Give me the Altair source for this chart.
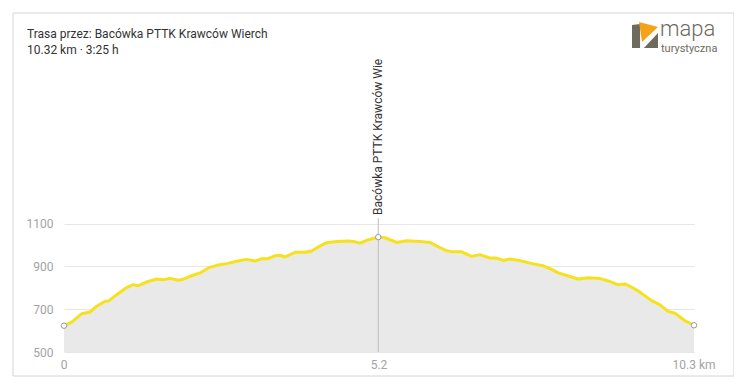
import altair as alt
import pandas as pd

# ---- data ----
km = [0, 0.126, 0.290, 0.426, 0.536, 0.672, 0.726, 0.863, 1.027, 1.135, 1.217, 1.355,
      1.518, 1.627, 1.736, 1.872, 1.954, 2.064, 2.228, 2.364, 2.501, 2.665, 2.829, 2.993,
      3.129, 3.238, 3.346, 3.456, 3.538, 3.620, 3.784, 3.948, 4.057, 4.165, 4.303, 4.467,
      4.657, 4.739, 4.848, 4.958, 5.148, 5.258, 5.450, 5.613, 5.831, 5.995, 6.131, 6.269,
      6.377, 6.514, 6.678, 6.814, 6.978, 7.088, 7.196, 7.305, 7.469, 7.687, 7.851, 7.989,
      8.097, 8.288, 8.424, 8.588, 8.780, 8.916, 9.080, 9.189, 9.325, 9.463, 9.626, 9.763,
      9.898, 10.008, 10.172, 10.32]
elev = [623, 640, 679, 687, 714, 737, 738, 768, 801, 815, 810, 827,
        841, 838, 844, 835, 840, 854, 869, 893, 905, 913, 924, 933,
        925, 936, 936, 950, 952, 944, 966, 966, 972, 991, 1011, 1016,
        1019, 1017, 1009, 1022, 1037, 1034, 1012, 1020, 1017, 1012, 992, 973,
        968, 968, 947, 955, 939, 939, 928, 935, 927, 912, 903, 886,
        870, 853, 841, 847, 843, 832, 814, 818, 799, 774, 740, 720,
        690, 681, 646, 625]

marker_km = [0, 5.148, 10.32]
marker_elev = [623, 1037, 625]
waypoint_name = "Bacówka PTTK Krawców Wierch"
waypoint_km = 5.148

x_tick_pos = [0, 5.16, 10.32]
x_tick_labels = ["0", "5.2", "10.3 km"]
y_ticks = [500, 700, 900, 1100]

title_lines = ["Trasa przez: Bacówka PTTK Krawców Wierch", "10.32 km · 3:25 h"]

FONT = "Roboto"
W, H = 630, 282

prof = pd.DataFrame({"km": km, "ele": elev})
marks = pd.DataFrame({"km": marker_km, "ele": marker_elev})
one = pd.DataFrame({"a": [0]})

xs = alt.Scale(domain=[0, 10.32], nice=False, zero=False)
ys = alt.Scale(domain=[500, 1818], nice=False, zero=False)

X = alt.X("km:Q", scale=xs, axis=None)
Y = alt.Y("ele:Q", scale=ys,
          axis=alt.Axis(values=y_ticks, format="d", title=None, domain=False, ticks=False,
                        labelColor="#a3a3a3", labelFontSize=12, labelPadding=11,
                        labelFont=FONT, gridColor="#e6e6e6", gridWidth=1))

border = alt.Chart(one).mark_rect(fillOpacity=0, stroke="#d4d4d4", strokeWidth=1).encode(
    x=alt.value(-51), x2=alt.value(670), y=alt.value(-57), y2=alt.value(306))

area = alt.Chart(prof).mark_area(color="#e9e9e9", opacity=1).encode(
    x=X, y=Y, y2=alt.datum(500))

line = alt.Chart(prof).mark_line(color="#f6e11c", strokeWidth=3,
                                 strokeJoin="round", strokeCap="round").encode(x=X, y=Y)

rule = alt.Chart(pd.DataFrame({"km": [waypoint_km]})).mark_rule(
    color="#bdbdbd", strokeWidth=1).encode(
    x=alt.X("km:Q", scale=xs, axis=None), y=alt.value(H), y2=alt.value(148))

pts = alt.Chart(marks).mark_point(filled=True, fill="white", stroke="#9a9a9a",
                                  strokeWidth=1, size=30, opacity=1).encode(x=X, y=Y)

wlabel = alt.Chart(pd.DataFrame({"km": [waypoint_km], "t": [waypoint_name]})).mark_text(
    angle=270, align="left", baseline="middle", font=FONT, fontSize=12,
    color="#333333", limit=158, ellipsis="\u200b").encode(
    x=alt.X("km:Q", scale=xs, axis=None), y=alt.value(145), text="t:N")

xlab = alt.Chart(pd.DataFrame({"km": x_tick_pos, "t": x_tick_labels})).mark_text(
    align="center", baseline="middle", font=FONT, fontSize=12, color="#a3a3a3").encode(
    x=alt.X("km:Q", scale=xs, axis=None), y=alt.value(295), text="t:N")

t1 = alt.Chart(one).mark_text(align="left", baseline="middle", font=FONT, fontSize=12,
                              color="#333333", text=title_lines[0]).encode(
    x=alt.value(-37), y=alt.value(-36))
t2 = alt.Chart(one).mark_text(align="left", baseline="middle", font=FONT, fontSize=12,
                              color="#333333", text=title_lines[1]).encode(
    x=alt.value(-37), y=alt.value(-20))

# logo
grey_shape = "M -1 -0.77 L -0.38 -0.85 L -0.38 1 L -1 1 Z M -0.08 1 L 1 -0.15 L 1 1 Z"
orange_shape = "M -0.46 -1 L 1 -0.62 L -0.23 0.54 Z"
logo_g = alt.Chart(one).mark_point(shape=grey_shape, filled=True, fill="#6e6a5e",
                                   strokeWidth=0, size=676, opacity=1).encode(
    x=alt.value(581), y=alt.value(-35))
logo_o = alt.Chart(one).mark_point(shape=orange_shape, filled=True, fill="#f5a21a",
                                   strokeWidth=0, size=676, opacity=1).encode(
    x=alt.value(581), y=alt.value(-35))
logo_t1 = alt.Chart(one).mark_text(align="left", baseline="alphabetic", font=FONT,
                                   fontSize=22, fontWeight=300, color="#6e6a5e",
                                   text="mapa").encode(x=alt.value(596), y=alt.value(-34))
logo_t2 = alt.Chart(one).mark_text(align="left", baseline="alphabetic", font=FONT,
                                   fontSize=11, fontWeight=400, color="#6e6a5e",
                                   text="turystyczna").encode(x=alt.value(597), y=alt.value(-18))

chart = alt.layer(border, area, line, rule, pts, wlabel, xlab, t1, t2,
                  logo_g, logo_o, logo_t1, logo_t2).properties(
    width=W, height=H,
    autosize=alt.AutoSizeParams(type="none"),
    padding={"left": 56, "top": 62, "right": 40, "bottom": 30},
).configure_view(stroke=None)

chart.save("out.html", embed_options={"renderer": "svg", "actions": False})
